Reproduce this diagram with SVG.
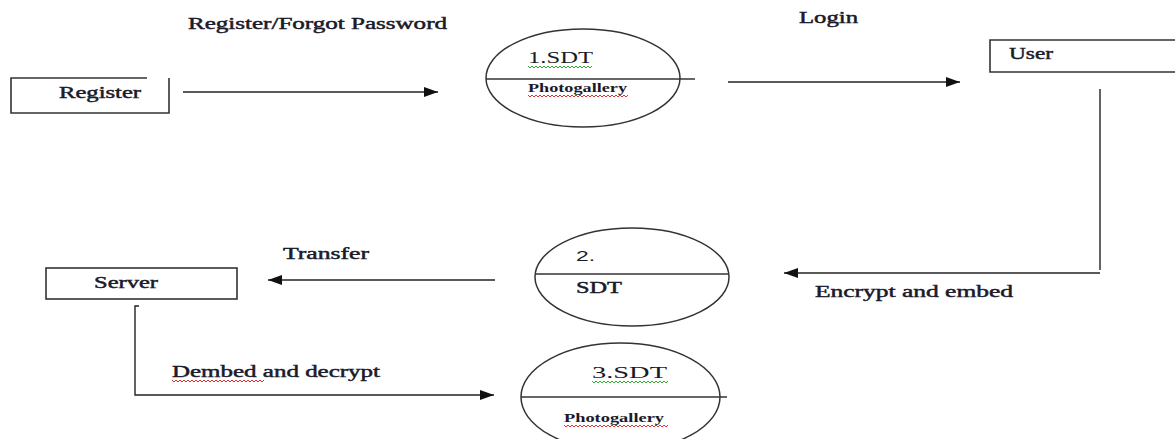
<svg xmlns="http://www.w3.org/2000/svg" width="1175" height="439" viewBox="0 0 1175 439">
<style>
  .t { font-family: "Liberation Serif", "DejaVu Serif", serif; fill: #1a1a2a; }
  .lbl { font-size: 16px; font-weight: normal; stroke: #1a1a2a; stroke-width: 0.45; }
  .sm { font-size: 12.5px; font-weight: bold; }
  .num { font-size: 17px; }
  .sans { font-family: "Liberation Sans", Arial, sans-serif; font-size: 15px; fill: #1a1a2a; }
  .box { fill: none; stroke: #333; stroke-width: 1.6; }
  .proc { fill: none; stroke: #333; stroke-width: 1.5; }
  .ln { fill: none; stroke: #222; stroke-width: 1.4; }
  .sq-g { fill: none; stroke: #3a3; stroke-width: 1; }
  .sq-r { fill: none; stroke: #d33; stroke-width: 1; }
</style>
<defs>
  <marker id="ah" markerWidth="14" markerHeight="10" refX="14" refY="5" orient="auto" markerUnits="userSpaceOnUse">
    <path d="M0,0 L14,5 L0,10 Z" fill="#111"/>
  </marker>
</defs>
<rect width="1175" height="439" fill="#fff"/>

<g id="node-register">
  <path class="box" d="M147,78 H11 V113 H169 V78"/>
  <text class="t lbl" x="59" y="98" textLength="82" lengthAdjust="spacingAndGlyphs">Register</text>
</g>

<g id="node-user">
  <path class="box" d="M1176,40 H990 V72 H1176"/>
  <text class="t lbl" x="1009" y="59" textLength="44" lengthAdjust="spacingAndGlyphs">User</text>
</g>

<g id="node-server">
  <rect class="box" x="46" y="268" width="191" height="31"/>
  <text class="t lbl" x="94" y="288" textLength="64" lengthAdjust="spacingAndGlyphs">Server</text>
</g>

<g id="node-sdt1">
  <ellipse class="proc" cx="583" cy="78" rx="97" ry="49"/>
  <line class="proc" x1="486" y1="79" x2="695" y2="79"/>
  <text class="t num" x="528" y="63" textLength="65" lengthAdjust="spacingAndGlyphs">1.SDT</text>
  <path class="sq-g" d="M528,66 l2,2 l2,-2 l2,2 l2,-2 l2,2 l2,-2 l2,2 l2,-2 l2,2 l2,-2 l2,2 l2,-2 l2,2 l2,-2 l2,2 l2,-2 l2,2 l2,-2 l2,2 l2,-2 l2,2 l2,-2 l2,2 l2,-2 l2,2 l2,-2 l2,2 l2,-2 l2,2 l2,-2 l2,2 l2,-2"/>
  <text class="t sm" x="528" y="92" textLength="99" lengthAdjust="spacingAndGlyphs">Photogallery</text>
  <path class="sq-r" d="M528,95 l2,2 l2,-2 l2,2 l2,-2 l2,2 l2,-2 l2,2 l2,-2 l2,2 l2,-2 l2,2 l2,-2 l2,2 l2,-2 l2,2 l2,-2 l2,2 l2,-2 l2,2 l2,-2 l2,2 l2,-2 l2,2 l2,-2 l2,2 l2,-2 l2,2 l2,-2 l2,2 l2,-2 l2,2 l2,-2 l2,2 l2,-2 l2,2 l2,-2 l2,2 l2,-2 l2,2 l2,-2 l2,2 l2,-2 l2,2 l2,-2 l2,2 l2,-2 l2,2 l2,-2 l2,2 l2,-2"/>
</g>

<g id="node-sdt2">
  <ellipse class="proc" cx="632" cy="277" rx="97" ry="49"/>
  <line class="proc" x1="535" y1="274" x2="729" y2="274"/>
  <text class="sans" x="576" y="261" textLength="19" lengthAdjust="spacingAndGlyphs">2.</text>
  <text class="t lbl" x="576" y="293" textLength="46" lengthAdjust="spacingAndGlyphs">SDT</text>
</g>

<g id="node-sdt3">
  <ellipse class="proc" cx="620.5" cy="397" rx="99.5" ry="54"/>
  <line class="proc" x1="521" y1="397" x2="727" y2="397"/>
  <text class="t num" x="592" y="378" textLength="75" lengthAdjust="spacingAndGlyphs">3.SDT</text>
  <path class="sq-g" d="M592,381 l2,2 l2,-2 l2,2 l2,-2 l2,2 l2,-2 l2,2 l2,-2 l2,2 l2,-2 l2,2 l2,-2 l2,2 l2,-2 l2,2 l2,-2 l2,2 l2,-2 l2,2 l2,-2 l2,2 l2,-2 l2,2 l2,-2 l2,2 l2,-2 l2,2 l2,-2 l2,2 l2,-2 l2,2 l2,-2 l2,2 l2,-2 l2,2 l2,-2 l2,2 l2,-2"/>
  <text class="t sm" x="564" y="422" textLength="100" lengthAdjust="spacingAndGlyphs">Photogallery</text>
  <path class="sq-r" d="M564,425 l2,2 l2,-2 l2,2 l2,-2 l2,2 l2,-2 l2,2 l2,-2 l2,2 l2,-2 l2,2 l2,-2 l2,2 l2,-2 l2,2 l2,-2 l2,2 l2,-2 l2,2 l2,-2 l2,2 l2,-2 l2,2 l2,-2 l2,2 l2,-2 l2,2 l2,-2 l2,2 l2,-2 l2,2 l2,-2 l2,2 l2,-2 l2,2 l2,-2 l2,2 l2,-2 l2,2 l2,-2 l2,2 l2,-2 l2,2 l2,-2 l2,2 l2,-2 l2,2 l2,-2 l2,2 l2,-2 l2,2 l2,-2"/>
</g>

<g id="connectors">
  <line class="ln" x1="183" y1="92" x2="438" y2="92" marker-end="url(#ah)"/>
  <text class="t lbl" x="188" y="29" textLength="259" lengthAdjust="spacingAndGlyphs">Register/Forgot Password</text>

  <line class="ln" x1="728" y1="82" x2="960" y2="82" marker-end="url(#ah)"/>
  <text class="t lbl" x="799" y="23" textLength="59" lengthAdjust="spacingAndGlyphs">Login</text>

  <line class="ln" x1="1100" y1="89" x2="1100" y2="270"/>
  <line class="ln" x1="1100" y1="273" x2="784" y2="273" marker-end="url(#ah)"/>
  <text class="t lbl" x="815" y="297" textLength="198" lengthAdjust="spacingAndGlyphs">Encrypt and embed</text>

  <line class="ln" x1="495" y1="280" x2="268" y2="280" marker-end="url(#ah)"/>
  <text class="t lbl" x="283" y="259" textLength="86" lengthAdjust="spacingAndGlyphs">Transfer</text>

  <path class="ln" d="M139,306 H135 V395 H494" marker-end="url(#ah)"/>
  <text class="t lbl" x="172" y="377" textLength="208" lengthAdjust="spacingAndGlyphs">Dembed and decrypt</text>
  <path class="sq-r" d="M172,380 l2,2 l2,-2 l2,2 l2,-2 l2,2 l2,-2 l2,2 l2,-2 l2,2 l2,-2 l2,2 l2,-2 l2,2 l2,-2 l2,2 l2,-2 l2,2 l2,-2 l2,2 l2,-2 l2,2 l2,-2 l2,2 l2,-2 l2,2 l2,-2 l2,2 l2,-2 l2,2 l2,-2 l2,2 l2,-2 l2,2 l2,-2 l2,2 l2,-2 l2,2 l2,-2 l2,2 l2,-2 l2,2 l2,-2 l2,2 l2,-2 l2,2 l2,-2"/>
</g>
</svg>
